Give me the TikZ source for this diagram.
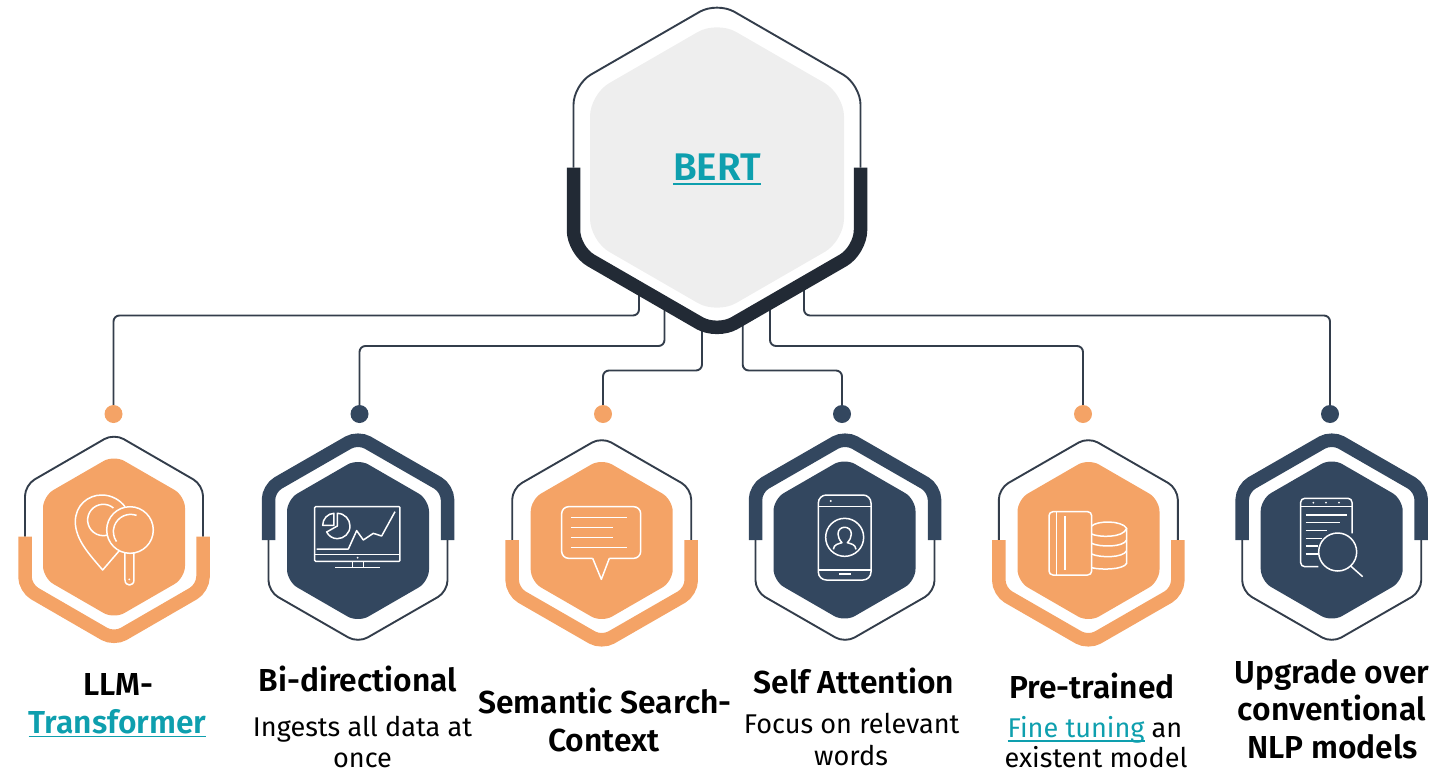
\documentclass[tikz,border=0pt]{standalone}
\usepackage{fontspec}
\setmainfont[BoldFont={Fira Sans SemiBold}]{Fira Sans}
\usetikzlibrary{calc}
\definecolor{orng}{HTML}{F4A366}
\definecolor{navy}{HTML}{33475F}
\definecolor{hubdark}{HTML}{222A35}
\definecolor{wirec}{HTML}{333D4B}
\definecolor{hubgrey}{HTML}{EEEEEE}
\definecolor{linkc}{HTML}{0E9FAE}
\newcommand\ulk[1]{\setbox0\hbox{#1}\rlap{\vrule width\wd0 height -2.6pt depth 4.4pt}\box0}
% cx cy w h radius style
\newcommand\hexfull[6]{\path[#6,rounded corners=#5pt] (#1+#3,#2) -- (#1+#3,#2+#4/2) -- (#1,#2+#4) -- (#1-#3,#2+#4/2) -- (#1-#3,#2-#4/2) -- (#1,#2-#4) -- (#1+#3,#2-#4/2) -- cycle;}
\newcommand\hexup[6]{\draw[#6,rounded corners=#5pt] (#1-#3,#2) -- (#1-#3,#2-#4/2) -- (#1,#2-#4) -- (#1+#3,#2-#4/2) -- (#1+#3,#2);}
\newcommand\hexlow[6]{\draw[#6,rounded corners=#5pt] (#1-#3,#2) -- (#1-#3,#2+#4/2) -- (#1,#2+#4) -- (#1+#3,#2+#4/2) -- (#1+#3,#2);}
% cx cy r a b
\newcommand\arcc[5]{\draw[icon] (#1,#2) ++(#4:#3pt) arc[start angle=#4,end angle=#5,radius=#3pt];}
\tikzset{
  x=1pt,y=-1pt,
  thinln/.style={draw=wirec,line width=1.9pt},
  thickn/.style={line width=13.5pt,line cap=butt},
  wire/.style={draw=wirec,line width=1.9pt,rounded corners=6pt},
  dot/.style={circle,minimum size=18pt,inner sep=0pt,draw=none,fill=#1},
  icon/.style={draw=white,line width=1.5pt,line join=round,fill=none},
  head/.style={anchor=base,font=\fontsize{31.8}{31.8}\selectfont\bfseries,text=black,inner sep=0pt},
  sub/.style={anchor=base,font=\fontsize{27.1}{27.1}\selectfont,text=black,inner sep=0pt},
  zoomed/.style={shift={(#1,400)},x=0.33333pt,y=-0.33333pt},
}
\begin{document}
\begin{tikzpicture}
\useasboundingbox (0,0) rectangle (1450,771);
% dots
\node[dot=orng] (d1) at (113.5,414) {};
\node[dot=navy] (d2) at (359.5,414) {};
\node[dot=orng] (d3) at (603,414) {};
\node[dot=navy] (d4) at (842,414) {};
\node[dot=orng] (d5) at (1083,414) {};
\node[dot=navy] (d6) at (1330,414) {};
% connector anchors under the hub's thick edge
\coordinate (s1) at (639,285);
\coordinate (s2) at (664.5,300);
\coordinate (s3) at (702,322);
\coordinate (s4) at (742.7,322);
\coordinate (s5) at (770,300);
\coordinate (s6) at (804,285);
\coordinate (k1) at (113.5,315.5);
\coordinate (k2) at (359.5,346);
\coordinate (k3) at (603,370.5);
\coordinate (k4) at (842,370.5);
\coordinate (k5) at (1083,346);
\coordinate (k6) at (1330,315.5);
\foreach \i in {1,...,6}{ \draw[wire] (s\i) |- (k\i) -- (d\i.north); }
% hub
\hexup{717}{167.5}{143.5}{165.7}{20}{thinln}
\hexlow{717}{167.5}{143.5}{165.7}{20}{hubdark,thickn}
\hexfull{717}{167.5}{127}{146.6}{22}{fill=hubgrey}
\node[anchor=base,font=\fontsize{38.5}{38.5}\selectfont\bfseries,text=linkc,inner sep=0pt] (bert) at (717,180.5) {\ulk{BERT}};
% small hexes
\hexup{114}{536.5}{89}{103}{11}{thinln}
\hexlow{114}{536.5}{89}{103}{11}{orng,thickn}
\hexfull{114}{537}{71}{82}{12}{fill=orng}
\hexup{358}{540}{89.5}{103}{11}{navy,thickn}
\hexlow{358}{540}{89.5}{103}{11}{thinln}
\hexfull{358}{540.5}{71}{82}{12}{fill=navy}
\hexup{601.7}{540}{89.5}{103}{11}{thinln}
\hexlow{601.7}{540}{89.5}{103}{11}{orng,thickn}
\hexfull{601.7}{540.5}{71}{82}{12}{fill=orng}
\hexup{845}{540}{89.5}{103}{11}{navy,thickn}
\hexlow{845}{540}{89.5}{103}{11}{thinln}
\hexfull{844.5}{540}{71}{82}{12}{fill=navy}
\hexup{1088.3}{540}{89.5}{103}{11}{thinln}
\hexlow{1088.3}{540}{89.5}{103}{11}{orng,thickn}
\hexfull{1088.5}{540.5}{71}{82}{12}{fill=orng}
\hexup{1331.7}{540}{89.5}{103}{11}{navy,thickn}
\hexlow{1331.7}{540}{89.5}{103}{11}{thinln}
\hexfull{1331.7}{540}{71}{82}{12}{fill=navy}
% icon 1: pin and magnifier
\begin{scope}[zoomed=0]
\draw[icon] (358,452) -- (308,510) .. controls (270,465) and (226,420) .. (226,365) .. controls (226,315) and (265,285) .. (305,285) .. controls (335,285) and (360,300) .. (375,320);
\arcc{310}{360}{15.7}{50}{285}
\draw[icon] (390,390) circle[radius=23.3pt];
\arcc{392}{395}{17.3}{70}{215}
\draw[icon] (375,458) -- (375,540) .. controls (375,560) and (402,560) .. (402,540) -- (402,458);
\fill[white] (388,538) circle[radius=1pt];
\end{scope}
% icon 2: monitor
\begin{scope}[zoomed=0]
\draw[icon,rounded corners=1pt] (944,320) rectangle (1200,484);
\draw[icon] (944,464) -- (1200,464);
\draw[icon] (950,447) -- (1045,447) -- (1070,392) -- (1090,420) -- (1120,400) -- (1145,408) -- (1185,335);
\draw[icon] (1002,340) .. controls (984,340) and (968,356) .. (968,376) -- (1002,376) -- cycle;
\draw[icon] (1012,340) .. controls (1034,340) and (1050,358) .. (1050,378) .. controls (1050,400) and (1032,416) .. (1012,416) .. controls (998,416) and (986,408) .. (980,396) -- (1012,378) -- cycle;
\fill[white] (1073,473) circle[radius=1pt];
\draw[icon] (1058,484) -- (1058,503) (1090,484) -- (1090,503) (1006,503) -- (1140,503);
\end{scope}
% icon 3: speech bubble
\begin{scope}[zoomed=480]
\draw[icon,rounded corners=7pt] (338,475) -- (245,475) -- (245,320) -- (482,320) -- (482,475) -- (388,475);
\draw[icon] (338,475) -- (364,538) -- (388,475);
\draw[icon] (273,352) -- (440,352) (273,383) -- (398,383) (273,413) -- (398,413) (273,443) -- (440,443);
\end{scope}
% icon 4: phone
\begin{scope}[zoomed=480]
\draw[icon,rounded corners=8pt] (1015,285) rectangle (1173,540);
\draw[icon] (1015,320) -- (1173,320) (1015,510) -- (1173,510) (1078,522) -- (1114,522);
\fill[white] (1052,303) circle[radius=1.1pt];
\draw[icon] (1094,412) circle[radius=19pt];
\draw[icon] (1060,448) .. controls (1062,432) and (1075,432) .. (1086,428) .. controls (1078,420) and (1074,410) .. (1074,402) .. controls (1074,375) and (1114,375) .. (1114,402) .. controls (1114,410) and (1110,420) .. (1102,428) .. controls (1113,432) and (1126,432) .. (1128,448);
\end{scope}
% icon 5: card and coins
\begin{scope}[zoomed=960]
\draw[icon,rounded corners=4pt] (267,335) rectangle (395,525);
\draw[icon] (290,335) -- (290,525);
\draw[icon,line width=2pt] (315,348) -- (315,510);
\draw[icon] (395,378) .. controls (410,362) and (485,360) .. (500,385) .. controls (490,415) and (415,412) .. (395,402);
\draw[icon] (500,385) -- (500,490) .. controls (490,510) and (420,510) .. (395,503);
\draw[icon] (395,430) .. controls (420,442) and (490,442) .. (500,420);
\draw[icon] (395,462) .. controls (420,474) and (490,474) .. (500,452);
\end{scope}
% icon 6: document and magnifier
\begin{scope}[zoomed=960]
\draw[icon,rounded corners=4pt] (1075,500) -- (1022,500) -- (1022,295) -- (1176,295) -- (1176,400);
\draw[icon] (1022,320) -- (1176,320);
\fill[white] (1060,308) circle[radius=1pt] (1098,308) circle[radius=1pt] (1137,308) circle[radius=1pt];
\draw[icon] (1037,345) -- (1162,345) (1037,368) -- (1140,368) (1037,392) -- (1100,392) (1037,415) -- (1085,415) (1037,438) -- (1075,438) (1037,462) -- (1075,462);
\draw[icon] (1133,456) circle[radius=19pt];
\draw[icon] (1172,498) -- (1208,530);
\end{scope}
% labels
\node[head] (t1a) at (118,695) {LLM-};
\node[head,text=linkc] (t1b) at (117.5,733) {\ulk{Transformer}};
\node[head] (t2a) at (358,691.7) {Bi-directional};
\node[sub] (t2b) at (362.5,736) {Ingests all data at};
\node[sub] (t2c) at (362.5,767) {once};
\node[head] (t3a) at (605,713) {Semantic Search-};
\node[head] (t3b) at (604,751) {Context};
\node[head] (t4a) at (854,693) {Self Attention};
\node[sub] (t4b) at (851.7,733) {Focus on relevant};
\node[sub] (t4c) at (851,765.7) {words};
\node[head] (t5a) at (1092,698) {Pre-trained};
\node[sub] (t5b) at (1095,737.7) {{\color{linkc}\ulk{Fine tuning}} an};
\node[sub] (t5c) at (1096,767) {existent model};
\node[head] (t6a) at (1332,683) {Upgrade over};
\node[head] (t6b) at (1331.7,720.5) {conventional};
\node[head] (t6c) at (1332.5,758.5) {NLP models};
\end{tikzpicture}
\end{document}
